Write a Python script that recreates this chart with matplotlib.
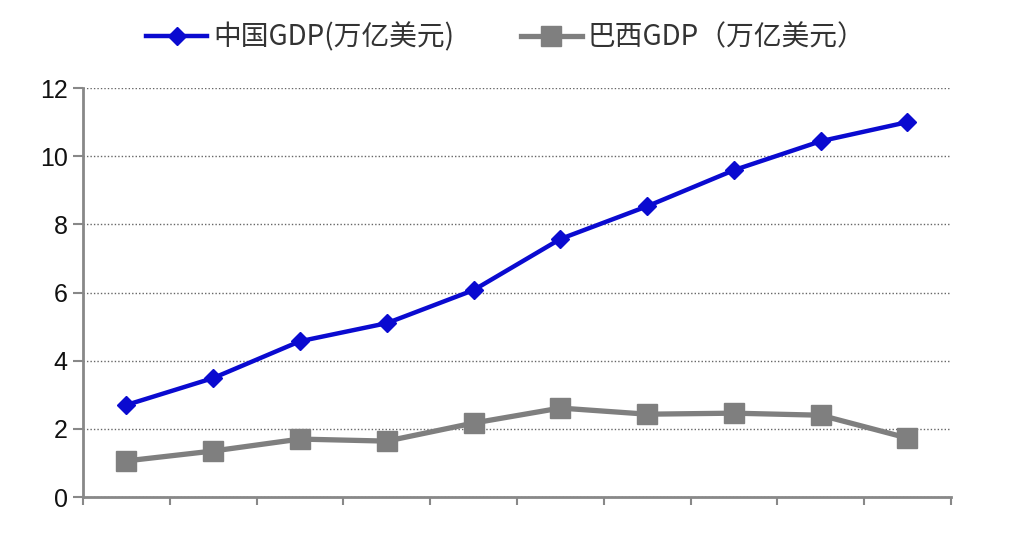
import matplotlib
matplotlib.use("Agg")
import matplotlib.pyplot as plt
import numpy as np

plt.rcParams['font.family'] = ['Noto Sans CJK SC', 'DejaVu Sans']

# values (trillion USD)
years = ["2006", "2007", "2008", "2009", "2010", "2011", "2012", "2013", "2014", "2015"]
china_gdp = [2.70, 3.49, 4.57, 5.10, 6.07, 7.57, 8.53, 9.59, 10.44, 11.00]
brazil_gdp = [1.06, 1.35, 1.70, 1.64, 2.17, 2.61, 2.43, 2.46, 2.40, 1.73]
y_ticks = [0, 2, 4, 6, 8, 10, 12]

fig = plt.figure(figsize=(10.32, 5.4), dpi=100)
ax = fig.add_axes([0.0804, 0.0796, 0.841, 0.7574])

x = np.arange(len(years))
ax.plot(x, china_gdp, color="#0a0ad0", lw=3.2, marker="D", ms=9,
        label="中国GDP(万亿美元)", zorder=3)
ax.plot(x, brazil_gdp, color="#7f7f7f", lw=3.8, marker="s", ms=14,
        label="巴西GDP（万亿美元）", zorder=3)

ax.set_xlim(-0.5, len(years) - 0.5)
ax.set_ylim(0, 12)
ax.set_yticks(y_ticks)
ax.set_xticks(np.arange(len(years) + 1) - 0.5)
ax.set_xticklabels([])
ax.tick_params(axis="y", labelsize=18, colors="#888888", labelcolor="#111111",
               length=7, width=1.5, pad=4)
ax.tick_params(axis="x", colors="#888888", length=6, width=1.5)
for lab in ax.get_yticklabels():
    lab.set_family(["Liberation Sans", "DejaVu Sans"])

ax.yaxis.grid(True, linestyle=(0, (1, 1.5)), color="#666666", lw=1)
ax.set_axisbelow(True)
for s in ["top", "right"]:
    ax.spines[s].set_visible(False)
for s in ["left", "bottom"]:
    ax.spines[s].set_color("#888888")
    ax.spines[s].set_linewidth(2)

fig.legend(loc="upper center", bbox_to_anchor=(0.49, 1.005), ncol=2, frameon=False,
           fontsize=20, handlelength=2.2, columnspacing=2.4, handletextpad=0.2,
           labelcolor="#333333")

fig.savefig("out.png", dpi=100, facecolor="white")
